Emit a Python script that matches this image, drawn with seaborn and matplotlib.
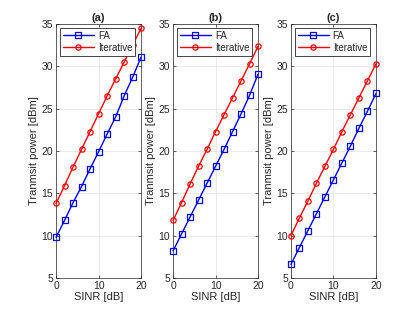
import matplotlib
matplotlib.use("Agg")
import matplotlib.pyplot as plt
import seaborn as sns

sinr = [0, 2, 4, 6, 8, 10, 12, 14, 16, 18, 20]

fa_a = [9.8, 11.8, 13.9, 15.8, 17.9, 19.9, 22.0, 24.0, 26.5, 28.7, 31.1]
it_a = [13.8, 15.9, 18.1, 20.2, 22.3, 24.4, 26.5, 28.5, 30.5, 32.5, 34.5]

fa_b = [8.2, 10.2, 12.2, 14.2, 16.2, 18.2, 20.2, 22.3, 24.4, 26.6, 29.1]
it_b = [11.8, 13.9, 16.1, 18.2, 20.2, 22.3, 24.3, 26.3, 28.3, 30.3, 32.4]

fa_c = [6.6, 8.6, 10.6, 12.6, 14.6, 16.6, 18.6, 20.6, 22.7, 24.7, 26.8]
it_c = [10.0, 12.1, 14.1, 16.2, 18.2, 20.2, 22.3, 24.3, 26.3, 28.3, 30.3]

panels = ["(a)", "(b)", "(c)"]
fa_all = [fa_a, fa_b, fa_c]
it_all = [it_a, it_b, it_c]

sns.set_theme(style="white")
plt.rcParams['font.family'] = ['Liberation Sans', 'DejaVu Sans']

fig = plt.figure(figsize=(4.15, 3.12), dpi=100)
lefts = [0.135, 0.417, 0.701]

for i, name in enumerate(panels):
    ax = fig.add_axes([lefts[i], 0.109, 0.205, 0.814])
    sns.lineplot(x=sinr, y=fa_all[i], color='#0000ff', marker='s', markersize=4.5,
                 markerfacecolor='none', markeredgecolor='#0000ff', markeredgewidth=0.9,
                 linewidth=1.0, label='FA', clip_on=False, zorder=3, ax=ax)
    sns.lineplot(x=sinr, y=it_all[i], color='#ff0000', marker='o', markersize=3.8,
                 markerfacecolor='none', markeredgecolor='#ff0000', markeredgewidth=0.9,
                 linewidth=1.0, label='Iterative', clip_on=False, zorder=3, ax=ax)
    ax.set_xlim(0, 20)
    ax.set_ylim(5, 35)
    ax.set_xticks([0, 10, 20])
    ax.set_yticks([5, 10, 15, 20, 25, 30, 35])
    ax.grid(True, color='#e6e6e6', linewidth=0.6)
    ax.tick_params(direction='in', length=2.5, width=0.5, labelsize=7.5,
                   colors='#262626', pad=2, top=True, right=True,
                   bottom=True, left=True)
    for s in ax.spines.values():
        s.set_color('#262626')
        s.set_linewidth(0.5)
    ax.set_xlabel("SINR [dB]", fontsize=8, color='#262626', labelpad=1)
    ax.set_ylabel("Tranmsit power [dBm]", fontsize=8, color='#262626', labelpad=2)
    ax.set_title(name, fontsize=8, fontweight='bold', pad=2)
    leg = ax.legend(loc='upper left', fontsize=7, frameon=True,
                    fancybox=False, edgecolor='#262626', framealpha=1,
                    handlelength=3.2, handletextpad=0.4, borderpad=0.3,
                    labelspacing=0.2, borderaxespad=0.4)
    leg.get_frame().set_linewidth(0.6)
    leg.set_zorder(5)

plt.savefig('out.png', dpi=100)
